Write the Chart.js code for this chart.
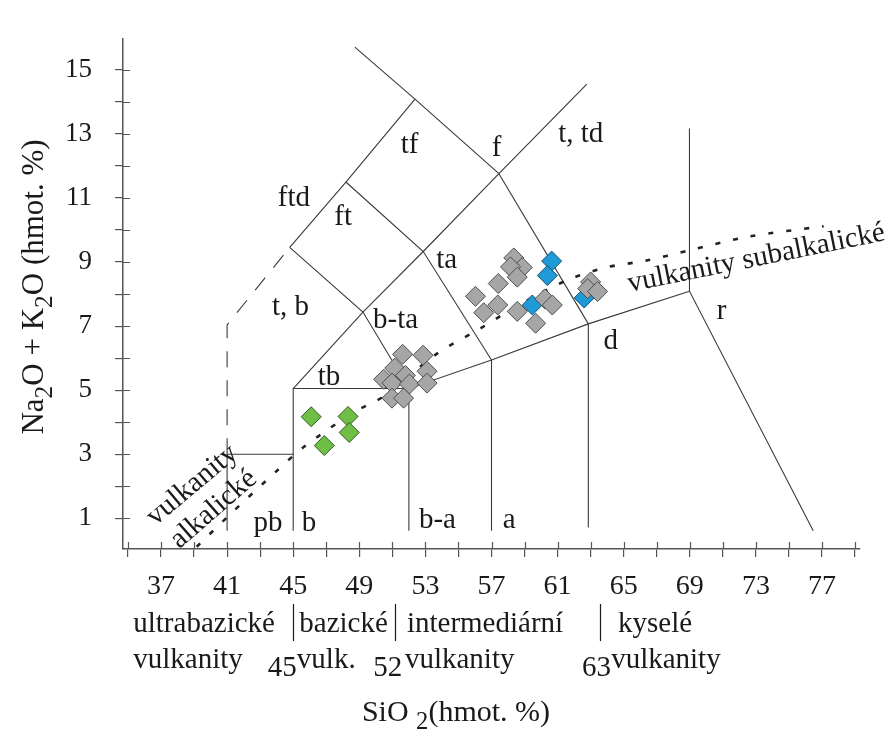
<!DOCTYPE html>
<html>
<head>
<meta charset="utf-8">
<title>TAS diagram</title>
<script src="https://cdn.jsdelivr.net/npm/chart.js@4.4.1/dist/chart.umd.min.js"></script>
<style>
  html, body { margin: 0; padding: 0; background: #fff; }
  #wrap { width: 892px; height: 735px; }
</style>
</head>
<body>
<div id="wrap"><canvas id="tas" width="892" height="735"></canvas></div>
<script>
// osy
const xTicks = [35, 37, 39, 41, 43, 45, 47, 49, 51, 53, 55, 57, 59, 61, 63, 65, 67, 69, 71, 73, 75, 77, 79];
const xTickLabels = [37, 41, 45, 49, 53, 57, 61, 65, 69, 73, 77];
const yTicks = [1, 2, 3, 4, 5, 6, 7, 8, 9, 10, 11, 12, 13, 14, 15];
const yTickLabels = [1, 3, 5, 7, 9, 11, 13, 15];

// hranice polí TAS (SiO2, Na2O + K2O)
const picrobasaltEdge = [[41, 0.61], [41, 3], [45, 3]];
const basaltLeft = [[45, 0.61], [45, 5.05], [52, 5.05]];
const basaltRight = [[52, 0.61], [52, 5.05], [57, 5.94], [62.86, 7.07], [68.98, 8.09]];
const andesiteLeft = [[57, 0.61], [57, 5.94]];
const daciteLeft = [[62.86, 0.71], [62.86, 7.07]];
const rhyoliteEdge = [[68.98, 13.17], [68.98, 8.09], [76.47, 0.61]];
const trachyEdge = [[45, 5.05], [49.22, 7.44], [52.87, 9.33], [57.45, 11.76], [62.77, 14.56]];
const tephriteEdge = [[44.79, 9.46], [49.22, 7.44], [52, 5.05]];
const phonotephriteEdge = [[48.19, 11.5], [52.87, 9.33], [57, 5.94]];
const trachyandesiteEdge = [[57.45, 11.76], [62.86, 7.07]];
const foiditeEdge = [[44.79, 9.46], [48.19, 11.5], [52.37, 14.09]];
const phonoliteEdge = [[48.73, 15.71], [52.37, 14.09], [57.45, 11.76]];
const foiditeDashed = [[41, 3], [41, 7.04], [44.79, 9.46]];

// hranice alkalické / subalkalické
const alkalineDivide = [[39.16, 0.11], [41.18, 1.12], [44.03, 2.49], [45.6, 3.21], [48.6, 4.29], [50.45, 4.8],
  [53.7, 6.14], [56.2, 6.89], [58.9, 7.73], [61.6, 8.44], [64.0, 8.84], [66.3, 9.04], [69.0, 9.37], [72.5, 9.79], [77.1, 10.12]];

// vzorky
const grayPoints = [[51.62, 6.12], [52.86, 6.09], [51.14, 5.69], [53.1, 5.59], [50.47, 5.34], [51.79, 5.46], [50.98, 5.22],
  [52.03, 5.19], [53.1, 5.22], [50.98, 4.75], [51.68, 4.75], [58.35, 9.13], [58.86, 8.83], [58.15, 8.85], [58.56, 8.53],
  [57.41, 8.33], [56.03, 7.93], [57.38, 7.66], [56.53, 7.42], [58.56, 7.46], [60.23, 7.85], [60.68, 7.66], [59.67, 7.09],
  [63.0, 8.38], [62.82, 8.17], [63.42, 8.08]];
const bluePoints = [[60.64, 9.03], [60.38, 8.58], [59.47, 7.66], [62.61, 7.88]];
const greenPoints = [[46.09, 4.17], [48.32, 4.18], [48.39, 3.68], [46.88, 3.27]];

// názvy polí: text, SiO2, Na2O + K2O (účaří)
const fieldNames = [
  ['tf', 52.04, 12.42], ['f', 57.31, 12.32], ['t, td', 62.4, 12.74], ['ftd', 45.04, 10.75], ['ft', 48.02, 10.16],
  ['ta', 54.29, 8.8], ['b-ta', 51.2, 6.94], ['tb', 47.17, 5.15], ['t, b', 44.84, 7.34], ['pb', 43.48, 0.61],
  ['b', 45.96, 0.61], ['b-a', 53.73, 0.7], ['a', 58.07, 0.7], ['d', 64.22, 6.29], ['r', 70.92, 7.21]
];

const serif = "'Liberation Serif', 'Times New Roman', serif";
const ink = '#1a1a1a';
const lineColor = '#3a3a3a';

const toXY = arr => arr.map(([x, y]) => ({ x, y }));

function boundary(points, dashed) {
  return {
    type: 'line',
    data: toXY(points),
    showLine: true,
    borderColor: lineColor,
    borderWidth: 1.1,
    borderDash: dashed ? [16, 13] : [],
    pointRadius: 0,
    fill: false,
    tension: 0
  };
}

function samples(points, fill, stroke) {
  return {
    type: 'scatter',
    data: toXY(points),
    pointStyle: 'rectRot',
    pointRadius: 10,
    backgroundColor: fill,
    borderColor: stroke,
    borderWidth: 1
  };
}

// text s dolními indexy
function drawRuns(ctx, runs, cx, baseY, size) {
  let total = 0;
  runs.forEach(r => {
    ctx.font = `${r.sub ? size * 0.82 : size}px ${serif}`;
    total += ctx.measureText(r.t).width;
  });
  let x0 = cx - total / 2;
  ctx.textAlign = 'left';
  runs.forEach(r => {
    ctx.font = `${r.sub ? size * 0.82 : size}px ${serif}`;
    ctx.fillText(r.t, x0, baseY + (r.sub ? size * 0.28 : 0));
    x0 += ctx.measureText(r.t).width;
  });
}

const tasText = {
  id: 'tasText',
  afterDraw(chart) {
    const { ctx, chartArea, scales: { x, y } } = chart;
    const bottom = chartArea.bottom;
    ctx.save();

    // vnitřní polovina značek na osách
    ctx.strokeStyle = '#555';
    ctx.lineWidth = 1.2;
    ctx.beginPath();
    xTicks.forEach(v => {
      const px = Math.round(x.getPixelForValue(v)) + 0.5;
      ctx.moveTo(px, bottom);
      ctx.lineTo(px, bottom - 7);
    });
    yTicks.forEach(v => {
      const py = Math.round(y.getPixelForValue(v)) + 0.5;
      ctx.moveTo(chartArea.left, py);
      ctx.lineTo(chartArea.left + 7, py);
    });
    ctx.stroke();

    ctx.fillStyle = ink;
    ctx.textBaseline = 'alphabetic';
    ctx.textAlign = 'center';
    ctx.font = `29px ${serif}`;
    fieldNames.forEach(([name, vx, vy]) => {
      ctx.fillText(name, x.getPixelForValue(vx), y.getPixelForValue(vy));
    });

    // šikmé popisy
    const rotated = (s, vx, vy, deg, base) => {
      ctx.save();
      ctx.translate(x.getPixelForValue(vx), y.getPixelForValue(vy));
      ctx.rotate(deg * Math.PI / 180);
      ctx.textAlign = 'center';
      ctx.textBaseline = base;
      ctx.fillText(s, 0, 0);
      ctx.restore();
    };
    rotated('vulkanity', 38.89, 2.03, -40, 'middle');
    rotated('alkalické', 40.19, 1.28, -41, 'middle');
    rotated('vulkanity subalkalické', 73.11, 8.88, -11.4, 'alphabetic');

    // skupiny podle SiO2 pod osou
    ctx.textAlign = 'left';
    ctx.font = `29px ${serif}`;
    const row1 = bottom + 83, row2 = bottom + 119;
    const put = (s, vx, yy) => ctx.fillText(s, x.getPixelForValue(vx), yy);
    put('ultrabazické', 35.32, row1);
    put('bazické', 45.37, row1);
    put('intermediární', 51.88, row1);
    put('kyselé', 64.66, row1);
    put('vulkanity', 35.32, row2);
    put('45', 43.46, row2 + 8);
    put('vulk.', 45.22, row2);
    put('52', 49.85, row2 + 8);
    put('vulkanity', 51.76, row2);
    put('63', 62.48, row2 + 8);
    put('vulkanity', 64.24, row2);

    ctx.strokeStyle = ink;
    ctx.lineWidth = 1.2;
    ctx.beginPath();
    [44.96, 51.13, 63.57].forEach(v => {
      const px = Math.round(x.getPixelForValue(v)) + 0.5;
      ctx.moveTo(px, bottom + 55);
      ctx.lineTo(px, bottom + 92);
    });
    ctx.stroke();

    // názvy os
    drawRuns(ctx, [{ t: 'SiO ' }, { t: '2', sub: true }, { t: '(hmot. %)' }], 456, bottom + 172, 30);

    ctx.translate(43, 287);
    ctx.rotate(-Math.PI / 2);
    drawRuns(ctx, [{ t: 'Na' }, { t: '2', sub: true }, { t: 'O + K' }, { t: '2', sub: true }, { t: 'O (hmot. %)' }], 0, 0, 31);

    ctx.restore();
  }
};

new Chart(document.getElementById('tas'), {
  type: 'scatter',
  data: {
    datasets: [
      samples(grayPoints, '#a6a6a6', '#4d4d4d'),
      samples(bluePoints, '#1e9ad6', '#17506e'),
      samples(greenPoints, '#6fbf47', '#2f5a1f'),
      {
        type: 'line',
        data: toXY(alkalineDivide),
        showLine: true,
        borderColor: '#222',
        borderWidth: 2.6,
        borderDash: [5, 13],
        pointRadius: 0,
        fill: false,
        tension: 0.3
      },
      boundary(picrobasaltEdge),
      boundary(basaltLeft),
      boundary(basaltRight),
      boundary(andesiteLeft),
      boundary(daciteLeft),
      boundary(rhyoliteEdge),
      boundary(trachyEdge),
      boundary(tephriteEdge),
      boundary(phonotephriteEdge),
      boundary(trachyandesiteEdge),
      boundary(foiditeEdge),
      boundary(phonoliteEdge),
      boundary(foiditeDashed, true)
    ]
  },
  options: {
    responsive: false,
    animation: false,
    layout: { padding: { top: 17, right: 32, left: 0, bottom: 0 } },
    plugins: { legend: { display: false }, tooltip: { enabled: false } },
    scales: {
      x: {
        type: 'linear',
        min: 34.7,
        max: 79.3,
        afterBuildTicks: s => { s.ticks = xTicks.map(v => ({ value: v })); },
        afterFit: s => { s.height = 186; },
        ticks: {
          autoSkip: false,
          maxRotation: 0,
          padding: 13,
          color: ink,
          font: { family: serif, size: 28 },
          callback: v => xTickLabels.includes(v) ? String(v) : ''
        },
        grid: { drawOnChartArea: false, drawTicks: true, tickLength: 8, color: '#555', lineWidth: 1.2 },
        border: { display: true, color: '#555', width: 1.5 }
      },
      y: {
        type: 'linear',
        min: 0.04,
        max: 15.96,
        afterBuildTicks: s => { s.ticks = yTicks.map(v => ({ value: v })); },
        afterFit: s => { s.width = 123; },
        ticks: {
          padding: 23,
          color: ink,
          font: { family: serif, size: 27 },
          callback: v => yTickLabels.includes(v) ? String(v) : ''
        },
        grid: { drawOnChartArea: false, drawTicks: true, tickLength: 8, color: '#555', lineWidth: 1.2 },
        border: { display: true, color: '#555', width: 1.5 }
      }
    }
  },
  plugins: [tasText]
});
</script>
</body>
</html>
